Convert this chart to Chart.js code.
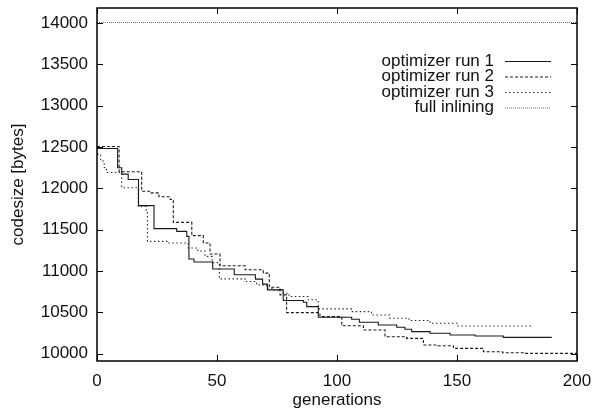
<!DOCTYPE html>
<html>
<head>
<meta charset="utf-8">
<script src="https://cdn.jsdelivr.net/npm/chart.js@4"></script>
<style>
html, body { margin: 0; padding: 0; background: #fff; }
#wrap { width: 592px; height: 413px; }
</style>
</head>
<body>
<div id="wrap"><canvas id="chart" width="592" height="413"></canvas></div>
<script>
// ============================================
// DATA
// ============================================
const seriesLabels = ['optimizer run 1', 'optimizer run 2', 'optimizer run 3', 'full inlining'];

const run1Gen  = [0, 8.6, 10.3, 13, 17.3, 23.75, 33.2, 37.4, 38.3, 40.4, 48.2, 57.2, 66, 69, 71, 77.6, 86, 87.4, 92.2, 106.1, 109.3, 117.2, 124.9, 128.3, 131.1, 138.75, 147.1, 157.5, 169.3, 189.5];
const run1Size = [12480, 12247, 12170, 12105, 11790, 11511, 11478, 11418, 11143, 11107, 11022, 10953, 10900, 10840, 10770, 10641, 10620, 10568, 10439, 10415, 10379, 10346, 10318, 10294, 10265, 10245, 10225, 10212, 10196, 10196];

const run2Gen  = [0, 9.2, 18.6, 22.5, 25.8, 30.5, 31.8, 39.5, 44.3, 47.1, 51.25, 61.7, 69.3, 71.8, 76.25, 79, 92.9, 102, 111, 120, 129, 136, 142, 148.5, 161, 169, 177.6, 200];
const run2Size = [12505, 12200, 11963, 11944, 11896, 11863, 11587, 11426, 11337, 11204, 11062, 11013, 10973, 10803, 10710, 10495, 10447, 10337, 10285, 10204, 10184, 10103, 10095, 10063, 10022, 10010, 10002, 10002];

const run3Gen  = [0, 1.5, 3, 4, 10.3, 17.2, 20.5, 21, 29.7, 38, 42, 45, 48, 51, 61.7, 66.5, 70.7, 73, 77.6, 80, 88, 92.2, 106, 114.4, 122, 130, 138.75, 150, 181];
const run3Size = [12410, 12330, 12250, 12190, 12005, 11780, 11720, 11357, 11337, 11277, 11240, 11175, 11100, 10904, 10871, 10830, 10790, 10770, 10730, 10690, 10650, 10540, 10507, 10467, 10427, 10400, 10366, 10334, 10334];

const inlineGen  = [0, 200];
const inlineSize = [14005, 14005];

const xTicks = [0, 50, 100, 150, 200];
const yTicks = [10000, 10500, 11000, 11500, 12000, 12500, 13000, 13500, 14000];

// ============================================
// HELPERS
// ============================================
const FONT = { family: '"Liberation Sans", Helvetica, Arial, sans-serif', size: 17 };

function toPoints(gens, sizes) {
    return gens.map((g, i) => ({ x: g, y: sizes[i] }));
}

// line styles, gnuplot-ish
const styles = [
    { color: '#1a1a1a', width: 1.1, dash: [] },
    { color: '#1a1a1a', width: 1.1, dash: [3, 2] },
    { color: '#2a2a2a', width: 1.1, dash: [1.5, 2.5] },
    { color: '#666666', width: 1, dash: [1, 1] }
];

function makeDataset(i, gens, sizes) {
    return {
        label: seriesLabels[i],
        data: toPoints(gens, sizes),
        borderColor: styles[i].color,
        borderWidth: styles[i].width,
        borderDash: styles[i].dash,
        stepped: 'before',
        pointRadius: 0,
        fill: false
    };
}

// border box, inward ticks on all sides and the legend
const gnuplotFrame = {
    id: 'gnuplotFrame',
    afterDatasetsDraw(chart) {
        const { ctx, chartArea: a, scales: { x, y } } = chart;
        ctx.save();
        ctx.strokeStyle = '#000';
        ctx.lineWidth = 1;
        ctx.beginPath();
        xTicks.forEach(v => {
            const px = Math.round(x.getPixelForValue(v)) + 0.5;
            ctx.moveTo(px, a.bottom); ctx.lineTo(px, a.bottom - 6);
            ctx.moveTo(px, a.top); ctx.lineTo(px, a.top + 6);
        });
        yTicks.forEach(v => {
            const py = Math.round(y.getPixelForValue(v)) + 0.5;
            ctx.moveTo(a.left, py); ctx.lineTo(a.left + 6, py);
            ctx.moveTo(a.right, py); ctx.lineTo(a.right - 6, py);
        });
        ctx.stroke();

        ctx.lineWidth = 1.5;
        ctx.strokeRect(a.left, a.top, a.right - a.left, a.bottom - a.top);

        // legend
        ctx.font = FONT.size + 'px ' + FONT.family;
        ctx.textAlign = 'right';
        ctx.textBaseline = 'middle';
        ctx.fillStyle = '#111';
        const textRight = 494, lineStart = 505, lineEnd = 551;
        const rowY = [61, 76.5, 92, 107.5];
        seriesLabels.forEach((lab, i) => {
            ctx.fillText(lab, textRight, rowY[i]);
            ctx.beginPath();
            ctx.strokeStyle = styles[i].color;
            ctx.lineWidth = styles[i].width;
            ctx.setLineDash(styles[i].dash);
            ctx.moveTo(lineStart, rowY[i] + 0.5);
            ctx.lineTo(lineEnd, rowY[i] + 0.5);
            ctx.stroke();
        });
        ctx.restore();
    }
};

// ============================================
// CHART
// ============================================
new Chart(document.getElementById('chart').getContext('2d'), {
    type: 'line',
    data: {
        datasets: [
            makeDataset(0, run1Gen, run1Size),
            makeDataset(1, run2Gen, run2Size),
            makeDataset(2, run3Gen, run3Size),
            makeDataset(3, inlineGen, inlineSize)
        ]
    },
    options: {
        responsive: false,
        animation: false,
        layout: { padding: { top: 8, right: 15, left: 0, bottom: 0 } },
        plugins: {
            legend: { display: false },
            tooltip: { enabled: false }
        },
        scales: {
            x: {
                type: 'linear',
                min: 0,
                max: 200,
                grid: { display: false, drawTicks: false },
                border: { display: false },
                afterBuildTicks: scale => { scale.ticks = xTicks.map(v => ({ value: v })); },
                afterFit: scale => {
                    scale.height = 52;
                    scale.paddingLeft = 0; scale.paddingRight = 0;
                },
                ticks: { font: FONT, color: '#111', padding: 10, maxRotation: 0, callback: v => String(v) },
                title: { display: true, text: 'generations', font: FONT, color: '#111', padding: { top: 0, bottom: 2 } }
            },
            y: {
                type: 'linear',
                min: 9910,
                max: 14180,
                grid: { display: false, drawTicks: false },
                border: { display: false },
                afterBuildTicks: scale => { scale.ticks = yTicks.map(v => ({ value: v })); },
                afterFit: scale => {
                    scale.width = 97;
                    scale.paddingTop = 0; scale.paddingBottom = 0;
                },
                ticks: { font: FONT, color: '#111', padding: 9, callback: v => String(v) },
                title: { display: true, text: 'codesize [bytes]', font: FONT, color: '#111', padding: { top: 8, bottom: 0 } }
            }
        }
    },
    plugins: [gnuplotFrame]
});
</script>
</body>
</html>
